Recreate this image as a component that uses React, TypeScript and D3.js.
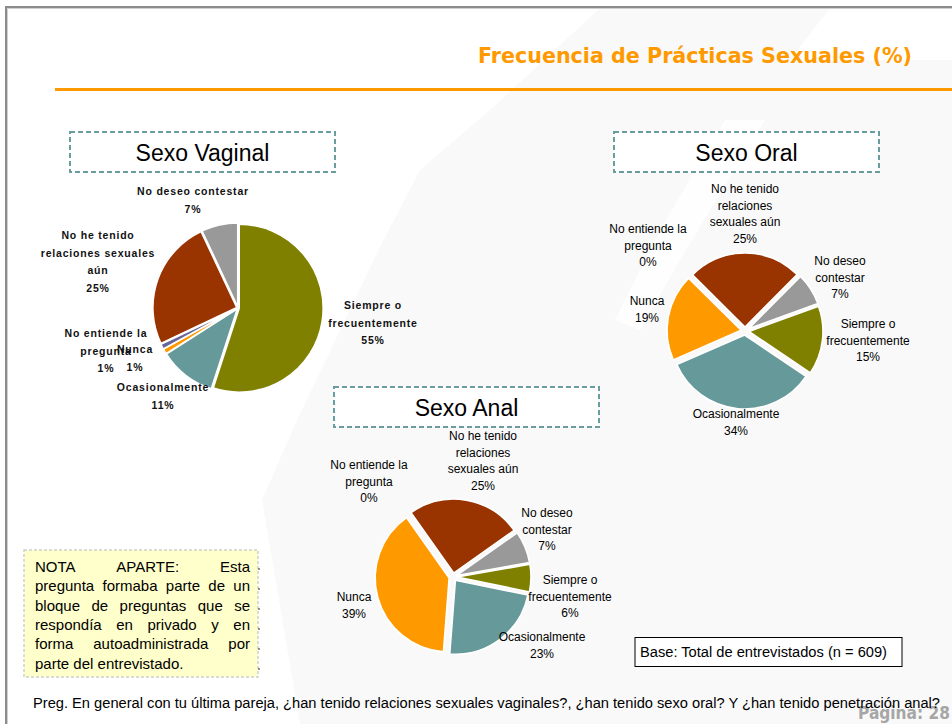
import React, { useMemo } from "react";
import * as d3 from "d3";

// ---------- DATA ----------
const categories = [
  "Siempre o frecuentemente",
  "Ocasionalmente",
  "Nunca",
  "No entiende la pregunta",
  "No he tenido relaciones sexuales aún",
  "No deseo contestar",
];
const sliceColors = ["#808000", "#669999", "#FF9900", "#666699", "#993300", "#999999"];

const vaginalValues = [55, 11, 1, 1, 25, 7];
const oralValues = [15, 34, 19, 0, 25, 7];
const analValues = [6, 23, 39, 0, 25, 7];

const vaginalLabelLines = [
  ["Siempre o", "frecuentemente"],
  ["Ocasionalmente"],
  ["Nunca"],
  ["No entiende la", "pregunta"],
  ["No he tenido", "relaciones sexuales", "aún"],
  ["No deseo contestar"],
];
const oralLabelLines = [
  ["Siempre o", "frecuentemente"],
  ["Ocasionalmente"],
  ["Nunca"],
  ["No entiende la", "pregunta"],
  ["No he tenido", "relaciones", "sexuales aún"],
  ["No deseo", "contestar"],
];
const analLabelLines = oralLabelLines;

const pageTitle = "Frecuencia de Prácticas Sexuales (%)";
const noteLines = [
  "NOTA APARTE: Esta",
  "pregunta formaba parte de un",
  "bloque de preguntas que se",
  "respondía en privado y en",
  "forma autoadministrada por",
  "parte del entrevistado.",
];
const baseText = "Base: Total de entrevistados (n = 609)";
const footerText =
  "Preg. En general con tu última pareja, ¿han tenido relaciones sexuales vaginales?, ¿han tenido sexo oral? Y ¿han tenido penetración anal?";
const pageText = "Página: 28";

// ---------- LAYOUT ----------
const W = 952;
const H = 724;
const FONT = "'Liberation Sans', Arial, sans-serif";

type ChartCfg = {
  title: string;
  values: number[];
  lines: string[][];
  cx: number;
  cy: number;
  r: number;
  startDeg: number;
  explode: number;
  box: [number, number, number, number];
  titleBase: number;
  labelOffsets: [number, number][];
  vaginalStyle: boolean;
  lineGap: number;
};

const charts: ChartCfg[] = [
  {
    title: "Sexo Vaginal",
    values: vaginalValues,
    lines: vaginalLabelLines,
    cx: 238,
    cy: 308,
    r: 84,
    startDeg: 0,
    explode: 1.2,
    box: [70, 132, 265, 40],
    titleBase: 161,
    labelOffsets: [
      [135, -3],
      [-75, 79],
      [-103, 41],
      [-132, 25],
      [-140, -73],
      [-45, -117],
    ],
    vaginalStyle: true,
    lineGap: 17.7,
  },
  {
    title: "Sexo Oral",
    values: oralValues,
    lines: oralLabelLines,
    cx: 745,
    cy: 331,
    r: 74,
    startDeg: 70,
    explode: 4,
    box: [614, 132, 265, 40],
    titleBase: 161,
    labelOffsets: [
      [123, -7],
      [-9, 83],
      [-98, -30],
      [-97, -102],
      [0, -142],
      [95, -70],
    ],
    vaginalStyle: false,
    lineGap: 16.7,
  },
  {
    title: "Sexo Anal",
    values: analValues,
    lines: analLabelLines,
    cx: 453,
    cy: 577,
    r: 74,
    startDeg: 80,
    explode: 4,
    box: [334, 387, 265, 40],
    titleBase: 416,
    labelOffsets: [
      [117, 3],
      [89, 60],
      [-99, 20],
      [-84, -112],
      [30, -141],
      [94, -64],
    ],
    vaginalStyle: false,
    lineGap: 16.7,
  },
];

function measure(text: string, font: string): number {
  const c = document.createElement("canvas").getContext("2d");
  if (!c) return text.length * 7;
  c.font = font;
  return c.measureText(text).width;
}

function PieChart({ cfg }: { cfg: ChartCfg }) {
  const arcs = useMemo(() => {
    const s = (cfg.startDeg * Math.PI) / 180;
    return d3
      .pie<number>()
      .sort(null)
      .startAngle(s)
      .endAngle(s + 2 * Math.PI)
      .value((d) => d)(cfg.values);
  }, [cfg]);
  const arcGen = d3.arc<d3.PieArcDatum<number>>().innerRadius(0).outerRadius(cfg.r);
  const [bx, by, bw, bh] = cfg.box;
  return (
    <g>
      <rect
        x={bx}
        y={by}
        width={bw}
        height={bh}
        fill="#ffffff"
        stroke="#6A9E9E"
        strokeWidth={2}
        strokeDasharray="5,3"
      />
      <text
        x={bx + bw / 2}
        y={cfg.titleBase}
        textAnchor="middle"
        fontFamily={FONT}
        fontSize={23}
        fill="#000"
      >
        {cfg.title}
      </text>
      <g transform={`translate(${cfg.cx},${cfg.cy})`}>
        {arcs.map((a, i) => {
          if (a.endAngle - a.startAngle <= 0) return null;
          const mid = (a.startAngle + a.endAngle) / 2;
          const ox = Math.sin(mid) * cfg.explode;
          const oy = -Math.cos(mid) * cfg.explode;
          return (
            <path
              key={categories[i]}
              d={arcGen(a) || ""}
              transform={`translate(${ox},${oy})`}
              fill={sliceColors[i]}
              stroke="#ffffff"
              strokeWidth={1.6}
              strokeLinejoin="round"
            />
          );
        })}
      </g>
      {cfg.values.map((v, i) => {
        const [dx, dy] = cfg.labelOffsets[i];
        const ls = [...cfg.lines[i], `${v}%`];
        const x = cfg.cx + dx;
        return (
          <text
            key={"l" + i}
            textAnchor="middle"
            fontFamily={FONT}
            fontSize={cfg.vaginalStyle ? 10.5 : 12}
            fontWeight={cfg.vaginalStyle ? "bold" : "normal"}
            letterSpacing={cfg.vaginalStyle ? 0.8 : 0}
            fill={cfg.vaginalStyle ? "#111" : "#000"}
          >
            {ls.map((t, j) => (
              <tspan key={j} x={x} y={cfg.cy + dy + 4 + j * cfg.lineGap}>
                {t}
              </tspan>
            ))}
          </text>
        );
      })}
    </g>
  );
}

function NoteBox() {
  const font = `15px ${FONT}`;
  const left = 35;
  const right = 250;
  const items = useMemo(() => {
    const out: { word: string; x: number; y: number }[] = [];
    noteLines.forEach((line, li) => {
      const words = line.split(" ");
      const y = 572 + li * 19.3;
      const justify = li < noteLines.length - 1 && words.length > 1;
      if (!justify) {
        out.push({ word: line, x: left, y });
        return;
      }
      const widths = words.map((w) => measure(w, font));
      const total = widths.reduce((s, w) => s + w, 0);
      const gap = (right - left - total) / (words.length - 1);
      let x = left;
      words.forEach((w, k) => {
        out.push({ word: w, x, y });
        x += widths[k] + gap;
      });
    });
    return out;
  }, []);
  return (
    <g>
      <rect
        x={24}
        y={550}
        width={234}
        height={127}
        fill="#FFFFCC"
        stroke="#cfcfcf"
        strokeWidth={1.5}
        strokeDasharray="3,2"
      />
      <line
        x1={259}
        y1={568}
        x2={259}
        y2={676}
        stroke="#333"
        strokeWidth={1}
        strokeDasharray="2,18"
      />
      {items.map((it, i) => (
        <text key={i} x={it.x} y={it.y} fontFamily={FONT} fontSize={15} fill="#000">
          {it.word}
        </text>
      ))}
    </g>
  );
}

export default function App() {
  return (
    <svg
      width={W}
      height={H}
      viewBox={`0 0 ${W} ${H}`}
      style={{ position: "fixed", left: 0, top: 0, background: "#fff" }}
    >
      <rect x={0} y={0} width={W} height={H} fill="#ffffff" />
      {/* faint watermark shapes */}
      <path
        d="M600,8 L830,8 L790,60 L952,60 L952,724 L300,724 L262,500 L297,420 L380,247 L420,170 L490,110 Z"
        fill="#f9f9f9"
      />
      <path
        d="M725,120 L765,120 L680,260 L640,330 L615,320 L660,230 Z"
        fill="#ffffff"
        opacity={0.8}
      />
      {/* frame */}
      <line x1={5} y1={7} x2={W} y2={7} stroke="#8c8c8c" strokeWidth={2} />
      <line x1={6} y1={6} x2={6} y2={H} stroke="#8c8c8c" strokeWidth={2} />
      <line x1={7.5} y1={8.5} x2={W} y2={8.5} stroke="#d0d0d0" strokeWidth={1} />
      <line x1={7.5} y1={8.5} x2={7.5} y2={H} stroke="#d0d0d0" strokeWidth={1} />

      {/* title */}
      <text
        x={478}
        y={63}
        fontFamily="'DejaVu Sans', sans-serif"
        fontWeight="bold"
        fontSize={22}
        fill="#FF9900"
        textLength={434}
        lengthAdjust="spacingAndGlyphs"
      >
        {pageTitle}
      </text>
      <line x1={55} y1={89.5} x2={W} y2={89.5} stroke="#FF9900" strokeWidth={3} />

      {charts.map((c) => (
        <PieChart key={c.title} cfg={c} />
      ))}

      <NoteBox />

      <rect x={635} y={637.5} width={267} height={29} fill="#ffffff" stroke="#000" strokeWidth={1} />
      <text x={640} y={657} fontFamily={FONT} fontSize={14} fill="#000" textLength={247} lengthAdjust="spacingAndGlyphs">
        {baseText}
      </text>

      <text
        x={858}
        y={719}
        fontFamily="'DejaVu Sans', sans-serif"
        fontWeight="bold"
        fontSize={17}
        fill="#a6a6a6"
        textLength={92}
        lengthAdjust="spacingAndGlyphs"
      >
        {pageText}
      </text>
      <text
        x={33}
        y={708}
        fontFamily={FONT}
        fontSize={14}
        fill="#000"
        textLength={907}
        lengthAdjust="spacingAndGlyphs"
      >
        {footerText}
      </text>
    </svg>
  );
}
